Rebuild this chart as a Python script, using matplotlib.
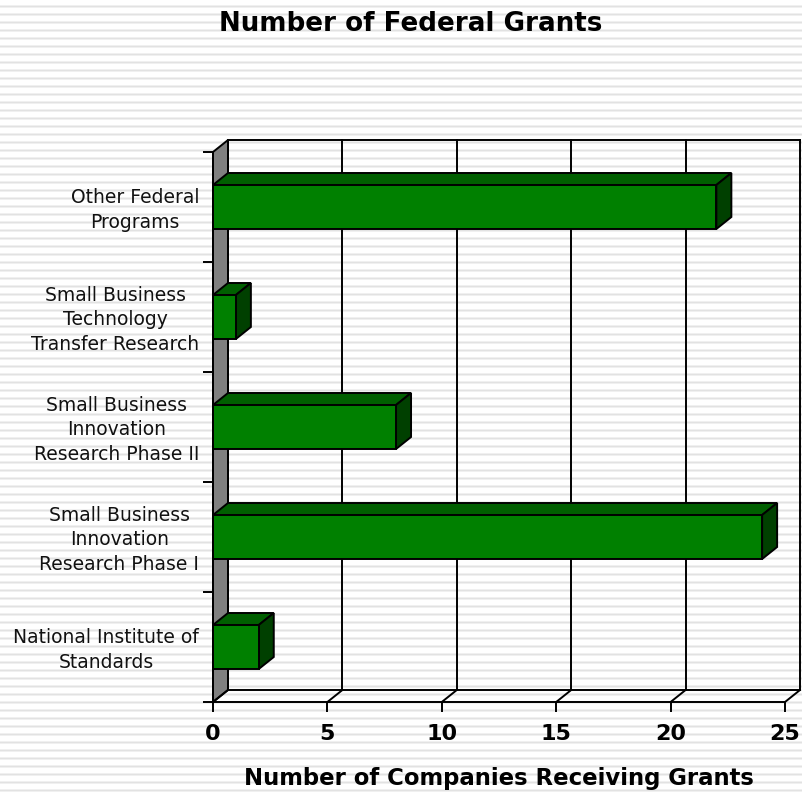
import numpy as np
import matplotlib
matplotlib.use('Agg')
import matplotlib.pyplot as plt
from matplotlib.patches import Polygon
from matplotlib.transforms import ScaledTranslation

categories = ['National Institute of\nStandards',
              'Small Business\nInnovation\nResearch Phase I',
              'Small Business\nInnovation\nResearch Phase II',
              'Small Business\nTechnology\nTransfer Research',
              'Other Federal\nPrograms']
grants = [2, 24, 8, 1, 22]
x_ticks = [0, 5, 10, 15, 20, 25]

W, H = 803, 794
fig = plt.figure(figsize=(W / 100, H / 100), dpi=100, facecolor='white')

# striped slide background
bg = fig.add_axes([0, 0, 1, 1])
bg.set_xlim(0, W)
bg.set_ylim(H, 0)
bg.axis('off')
for y in np.arange(6.7, H, 8):
    bg.axhspan(y - 1.6, y + 1.6, color='#f0f0f0', lw=0)
    bg.axhspan(y - 0.7, y + 0.7, color='#e2e2e2', lw=0)

# front plane of the fake 3d box
ax = fig.add_axes([213 / W, 1 - 702 / H, 572 / W, 550 / H])
ax.patch.set_alpha(0)
ax.set_xlim(0, 25)
ax.set_ylim(0, 5)

# depth of the box in data units
dx = 15 / 572 * 25
dy = 12 / 550 * 5
bar_h = 0.4
lw = 1.4

# left wall
ax.add_patch(Polygon([(0, 0), (dx, dy), (dx, 5 + dy), (0, 5)], closed=True,
                     fc='#808080', ec='black', lw=lw, clip_on=False, zorder=1))

# back wall grid and floor
for v in x_ticks:
    ax.plot([v, v + dx], [0, dy], color='black', lw=lw, clip_on=False, zorder=1)
    ax.plot([v + dx, v + dx], [dy, 5 + dy], color='black', lw=lw, clip_on=False, zorder=1)
ax.plot([dx, 25 + dx], [dy, dy], color='black', lw=lw, clip_on=False, zorder=1)
ax.plot([dx, 25 + dx], [5 + dy, 5 + dy], color='black', lw=lw, clip_on=False, zorder=1)

# bars
for i, v in enumerate(grants):
    y0 = i + 0.5 - bar_h / 2
    y1 = i + 0.5 + bar_h / 2
    ax.add_patch(Polygon([(0, y1), (dx, y1 + dy), (v + dx, y1 + dy), (v, y1)], closed=True,
                         fc='#005f00', ec='black', lw=lw, clip_on=False, zorder=3))
    ax.add_patch(Polygon([(v, y0), (v + dx, y0 + dy), (v + dx, y1 + dy), (v, y1)], closed=True,
                         fc='#004000', ec='black', lw=lw, clip_on=False, zorder=3))
    ax.add_patch(Polygon([(0, y0), (v, y0), (v, y1), (0, y1)], closed=True,
                         fc='#008000', ec='black', lw=lw, clip_on=False, zorder=4))

for side in ['top', 'right']:
    ax.spines[side].set_visible(False)
for side in ['left', 'bottom']:
    ax.spines[side].set_linewidth(lw)
    ax.spines[side].set_zorder(5)

ax.set_xticks(x_ticks)
ax.set_yticks(range(6))
ax.set_yticklabels([])
ax.tick_params(axis='both', which='major', length=7.2, width=lw)
ax.tick_params(axis='x', pad=8.5, labelsize=16)
for lab in ax.get_xticklabels():
    lab.set_fontweight('bold')

ax.set_yticks(np.arange(5) + 0.5, minor=True)
ax.set_yticklabels(categories, minor=True, fontsize=13.5, ma='center', linespacing=1.37, color='#111111')
ax.tick_params(axis='y', which='minor', length=0, pad=10)
# labels sit a little above the band centres
nudge = ScaledTranslation(0, 2 / 100, fig.dpi_scale_trans)
for lab in ax.get_yticklabels(minor=True):
    lab.set_transform(lab.get_transform() + nudge)

ax.set_xlabel('Number of Companies Receiving Grants', fontsize=16.4, fontweight='bold', labelpad=17)
fig.text(411 / W, 1 - 24 / H, 'Number of Federal Grants', fontsize=18.8, fontweight='bold',
         ha='center', va='center')

fig.savefig('out.png', dpi=100)
